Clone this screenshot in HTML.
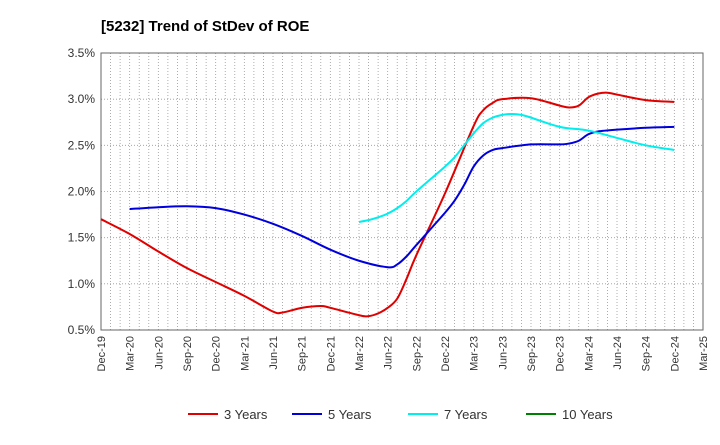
<!DOCTYPE html>
<html><head><meta charset="utf-8"><style>
body{margin:0;background:#fff;font-family:"Liberation Sans",sans-serif}
svg text{font-family:"Liberation Sans",sans-serif}
</style></head><body>
<svg width="720" height="440" viewBox="0 0 720 440">
<text x="101" y="31" font-size="15" font-weight="bold" fill="#000">[5232]  Trend of StDev of ROE</text>
<g id="grid"></g><g id="axes"></g><g id="series"></g><g id="legend"></g>
</svg>
<script>
const xLabels=["Dec-19","Mar-20","Jun-20","Sep-20","Dec-20","Mar-21","Jun-21","Sep-21","Dec-21","Mar-22","Jun-22","Sep-22","Dec-22","Mar-23","Jun-23","Sep-23","Dec-23","Mar-24","Jun-24","Sep-24","Dec-24","Mar-25"];
const yTicks=[0.5,1.0,1.5,2.0,2.5,3.0,3.5];
// month index from Dec-19
const m3=[0,3,6,9,12,15,18,19,21,23,24,27,28,29,30,31,32,33,36,39,40,41,42,45,48,49,50,51,52,53,54,57,60];
const v3=[1.70,1.54,1.35,1.17,1.02,0.87,0.70,0.69,0.74,0.76,0.74,0.66,0.65,0.68,0.74,0.84,1.06,1.31,1.98,2.71,2.88,2.96,3.00,3.01,2.93,2.91,2.93,3.02,3.06,3.07,3.05,2.99,2.97];
const m5=[3,6,9,12,15,18,21,24,27,30,31,32,33,36,37,38,39,40,41,42,45,48,49,50,51,52,54,57,60];
const v5=[1.81,1.83,1.84,1.82,1.75,1.65,1.52,1.37,1.25,1.18,1.21,1.30,1.42,1.77,1.90,2.07,2.27,2.39,2.45,2.47,2.51,2.51,2.52,2.55,2.62,2.65,2.67,2.69,2.70];
const m7=[27,28,29,30,31,32,33,36,37,38,39,40,41,42,43,44,45,48,51,54,57,60];
const v7=[1.67,1.69,1.72,1.76,1.82,1.90,2.00,2.27,2.37,2.50,2.63,2.74,2.80,2.83,2.84,2.83,2.80,2.70,2.66,2.58,2.50,2.45];
const X0=101,X1=703,Y0=330,Y1=53;
const xs=m=>X0+(X1-X0)*m/63;
const ys=v=>Y0-(v-0.5)/3*(Y0-Y1);
const NS="http://www.w3.org/2000/svg";
function mk(t,a,p){const e=document.createElementNS(NS,t);for(const k in a)e.setAttribute(k,a[k]);p.appendChild(e);return e;}
const grid=document.getElementById('grid'),axes=document.getElementById('axes'),ser=document.getElementById('series'),leg=document.getElementById('legend');
for(let m=1;m<63;m++){const l=mk('line',{x1:xs(m),x2:xs(m),y1:Y1,y2:Y0,stroke:'#999','stroke-width':0.8,'stroke-dasharray':'1,2'},grid);

}
yTicks.forEach(v=>{const l=mk('line',{x1:X0,x2:X1,y1:ys(v),y2:ys(v),stroke:'#999','stroke-width':0.8,'stroke-dasharray':'1,2'},grid);


const t=mk('text',{x:X0-6,y:ys(v)+4,'font-size':12,'text-anchor':'end',fill:'#333'},axes);t.textContent=v.toFixed(1)+'%';

});
const fr=mk('rect',{x:X0,y:Y1,width:X1-X0,height:Y0-Y1,fill:'none',stroke:'#666','stroke-width':1},axes);


xLabels.forEach((s,i)=>{const x=xs(i*3);const t=mk('text',{x:x+4,y:Y0+6,'font-size':11,'text-anchor':'end',fill:'#333',transform:`rotate(-90 ${x+4} ${Y0+6})`},axes);t.textContent=s;

});
function path(ms,vs){const p=ms.map((m,i)=>[xs(m),ys(vs[i])]);let d=`M${p[0][0]},${p[0][1]}`;
for(let i=0;i<p.length-1;i++){const a=p[i-1]||p[i],b=p[i],c=p[i+1],e=p[i+2]||c;
d+=` C${b[0]+(c[0]-a[0])/6},${b[1]+(c[1]-a[1])/6} ${c[0]-(e[0]-b[0])/6},${c[1]-(e[1]-b[1])/6} ${c[0]},${c[1]}`;}return d;}
[[m3,v3,'#e00000','series-3-years'],[m5,v5,'#0000dd','series-5-years'],[m7,v7,'#00eeee','series-7-years']].forEach(s=>{
const p=mk('path',{d:path(s[0],s[1]),fill:'none',stroke:s[2],'stroke-width':2},ser);

});
[[188,'#e00000','3 Years'],[292,'#0000dd','5 Years'],[408,'#00eeee','7 Years'],[526,'#008000','10 Years']].forEach(l=>{
const g=mk('g',{},leg);


mk('line',{x1:l[0],x2:l[0]+30,y1:414,y2:414,stroke:l[1],'stroke-width':2},g);
const t=mk('text',{x:l[0]+36,y:419,'font-size':13,fill:'#333'},g);t.textContent=l[2];});
</script>
</body></html>
